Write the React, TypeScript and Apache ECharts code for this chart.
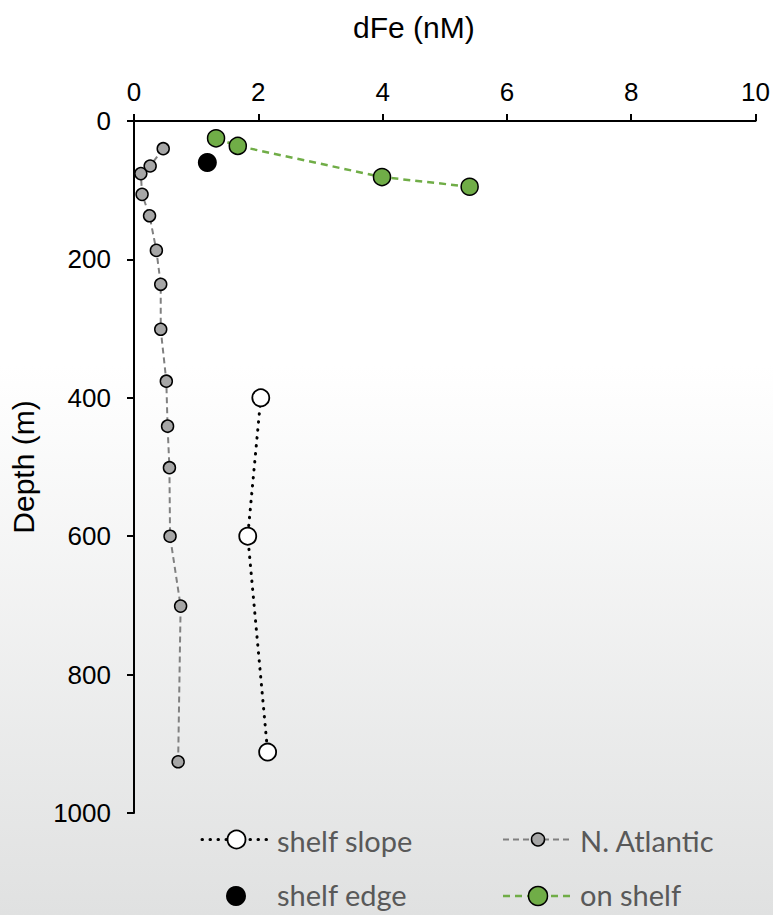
import React, { useEffect, useRef } from "react";
import * as echarts from "echarts";

// dFe (nM) and depth (m)
const naFe = [0.47, 0.26, 0.11, 0.13, 0.25, 0.36, 0.43, 0.43, 0.52, 0.54, 0.57, 0.58, 0.75, 0.71];
const naDepth = [40, 65, 76, 106, 137, 187, 236, 301, 376, 441, 501, 600, 701, 926];
const slopeFe = [2.04, 1.83, 2.15];
const slopeDepth = [400, 600, 912];
const edgeFe = [1.18];
const edgeDepth = [60];
const shelfFe = [1.32, 1.67, 3.99, 5.4];
const shelfDepth = [25, 36, 81, 95];

const xTicks = [0, 2, 4, 6, 8, 10];
const yTicks = [0, 200, 400, 600, 800, 1000];

const zip = (a: number[], b: number[]) => a.map((v, i) => [v, b[i]]);

const GREEN = "#70ad47";
const GRAY = "#a6a6a6";
const LEG = "#595959";
const FONT = "Liberation Sans";
const LFONT = "Lato";

export default function App() {
  const ref = useRef<HTMLDivElement>(null);
  useEffect(() => {
    if (!ref.current) return;
    const chart = echarts.init(ref.current, undefined, { renderer: "svg" });
    const r1 = 839.5;
    const r2 = 896;
    const legendText = (x: number, y: number, t: string) => ({
      type: "text",
      x,
      y,
      style: { text: t, fill: LEG, fontFamily: LFONT, fontSize: 29, verticalAlign: "middle", align: "left" },
    });
    chart.setOption({
      animation: false,
      title: {
        text: "dFe (nM)",
        left: 348,
        top: 7,
        textStyle: { fontFamily: FONT, fontSize: 30, fontWeight: "normal", color: "#000" },
      },
      grid: { left: 134, right: 14, top: 121, bottom: 102, containLabel: false },
      xAxis: {
        type: "value",
        position: "top",
        min: xTicks[0],
        max: xTicks[xTicks.length - 1],
        interval: 2,
        axisLine: { show: true, lineStyle: { color: "#000", width: 2 } },
        axisTick: { show: true, length: 7, lineStyle: { color: "#000", width: 2 } },
        axisLabel: { fontFamily: FONT, fontSize: 26, color: "#000", margin: 16, formatter: (v: number) => String(v) },
        splitLine: { show: false },
      },
      yAxis: {
        type: "value",
        inverse: true,
        min: yTicks[0],
        max: yTicks[yTicks.length - 1],
        interval: 200,
        name: "Depth (m)",
        nameLocation: "middle",
        nameRotate: 90,
        nameGap: 96,
        nameTextStyle: { fontFamily: FONT, fontSize: 30, color: "#000" },
        axisLine: { show: true, lineStyle: { color: "#000", width: 2 } },
        axisTick: { show: true, length: 7, lineStyle: { color: "#000", width: 2 } },
        axisLabel: { fontFamily: FONT, fontSize: 26, color: "#000", margin: 23, formatter: (v: number) => String(v) },
        splitLine: { show: false },
      },
      series: [
        {
          name: "N. Atlantic",
          type: "line",
          data: zip(naFe, naDepth),
          symbol: "circle",
          symbolSize: 12,
          itemStyle: { color: GRAY, borderColor: "#000", borderWidth: 1.5 },
          lineStyle: { color: "#808080", width: 2, type: [6, 4] },
          z: 3,
        },
        {
          name: "shelf slope",
          type: "line",
          data: zip(slopeFe, slopeDepth),
          symbol: "circle",
          symbolSize: 17,
          itemStyle: { color: "#fff", borderColor: "#000", borderWidth: 1.8 },
          lineStyle: { color: "#000", width: 3, type: [0.5, 7.5], cap: "round" },
          z: 3,
        },
        {
          name: "shelf edge",
          type: "scatter",
          data: zip(edgeFe, edgeDepth),
          symbol: "circle",
          symbolSize: 19,
          itemStyle: { color: "#000", opacity: 1 },
          z: 4,
        },
        {
          name: "on shelf",
          type: "line",
          data: zip(shelfFe, shelfDepth),
          symbol: "circle",
          symbolSize: 17,
          itemStyle: { color: GREEN, borderColor: "#000", borderWidth: 1.5 },
          lineStyle: { color: GREEN, width: 2.5, type: [7, 5] },
          z: 4,
        },
      ],
      graphic: [
        {
          type: "line",
          shape: { x1: 202, y1: r1, x2: 268, y2: r1 },
          style: { stroke: "#000", lineWidth: 3, lineDash: [0.5, 7.5], lineCap: "round" },
        },
        {
          type: "circle",
          shape: { cx: 236.5, cy: r1, r: 9 },
          style: { fill: "#fff", stroke: "#000", lineWidth: 1.8 },
        },
        legendText(277, r1 + 1, "shelf slope"),
        { type: "circle", shape: { cx: 236, cy: r2, r: 10 }, style: { fill: "#000" } },
        legendText(277, r2 - 2, "shelf edge"),
        {
          type: "line",
          shape: { x1: 503, y1: r1, x2: 572, y2: r1 },
          style: { stroke: "#808080", lineWidth: 2, lineDash: [6, 4] },
        },
        {
          type: "circle",
          shape: { cx: 538, cy: r1, r: 6.5 },
          style: { fill: GRAY, stroke: "#000", lineWidth: 1.5 },
        },
        legendText(580, r1 + 1, "N. Atlantic"),
        {
          type: "line",
          shape: { x1: 503, y1: r2, x2: 572, y2: r2 },
          style: { stroke: GREEN, lineWidth: 2.5, lineDash: [7, 5] },
        },
        {
          type: "circle",
          shape: { cx: 538, cy: r2, r: 9.5 },
          style: { fill: GREEN, stroke: "#000", lineWidth: 1.5 },
        },
        legendText(580, r2 - 2, "on shelf"),
      ],
    });
    return () => chart.dispose();
  }, []);
  return (
    <div
      ref={ref}
      style={{
        position: "fixed",
        left: 0,
        top: 0,
        width: 773,
        height: 915,
        background: "linear-gradient(to bottom, #ffffff 0%, #ffffff 40%, #e0e1e1 100%)",
      }}
    />
  );
}
